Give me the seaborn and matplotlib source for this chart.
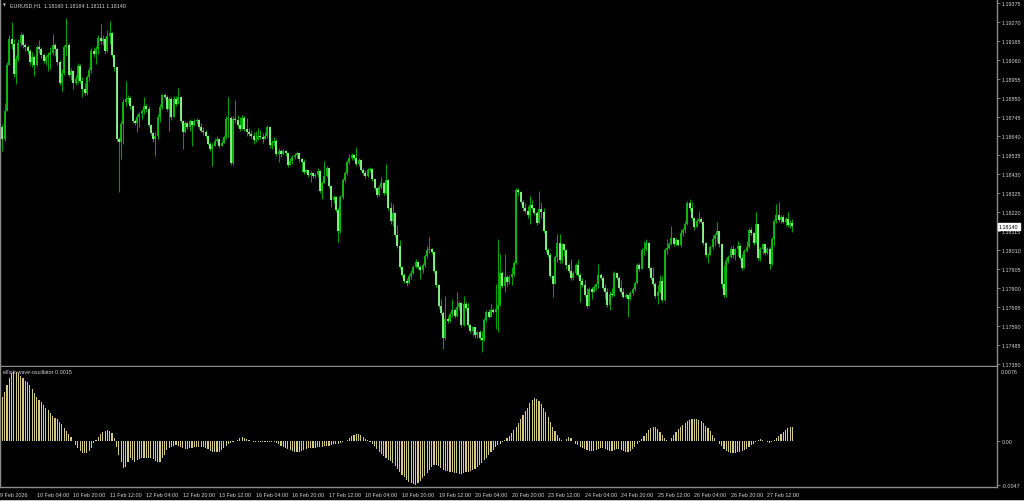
import numpy as np
import pandas as pd
import matplotlib
matplotlib.use("Agg")
import matplotlib.pyplot as plt
import matplotlib.transforms as mtransforms
import seaborn as sns

# Dados do gráfico EURUSD H1
symbol = "EURUSD,H1"
indicator_name = "elliott-wave-oscillator"
first_open = 1.18606

closes = [
    1.18690, 1.18623, 1.18778, 1.19032, 1.19176, 1.19148, 1.18982, 1.19065, 1.19154, 1.19198,
    1.19143, 1.19132, 1.19110, 1.19048, 1.19077, 1.19032, 1.19132, 1.19121, 1.19088, 1.19054,
    1.19077, 1.19088, 1.19099, 1.19143, 1.19121, 1.19048, 1.18933, 1.18988, 1.19132, 1.19143,
    1.18977, 1.18999, 1.18933, 1.18955, 1.19026, 1.18944, 1.18900, 1.18878, 1.18966, 1.19004,
    1.19110, 1.19093, 1.19121, 1.19181, 1.19165, 1.19176, 1.19110, 1.19192, 1.19209, 1.19088,
    1.19021, 1.18623, 1.18606, 1.18706, 1.18827, 1.18844, 1.18850, 1.18805, 1.18723, 1.18712,
    1.18745, 1.18761, 1.18778, 1.18805, 1.18789, 1.18701, 1.18657, 1.18623, 1.18640, 1.18745,
    1.18800, 1.18867, 1.18856, 1.18789, 1.18844, 1.18745, 1.18844, 1.18816, 1.18856, 1.18723,
    1.18662, 1.18712, 1.18690, 1.18723, 1.18701, 1.18723, 1.18728, 1.18690, 1.18668, 1.18662,
    1.18640, 1.18595, 1.18568, 1.18584, 1.18612, 1.18623, 1.18584, 1.18601, 1.18635, 1.18734,
    1.18739, 1.18491, 1.18734, 1.18728, 1.18701, 1.18679, 1.18739, 1.18679, 1.18662, 1.18651,
    1.18640, 1.18617, 1.18623, 1.18640, 1.18635, 1.18623, 1.18640, 1.18690, 1.18590, 1.18601,
    1.18612, 1.18540, 1.18557, 1.18540, 1.18557, 1.18546, 1.18480, 1.18502, 1.18524, 1.18535,
    1.18546, 1.18513, 1.18496, 1.18441, 1.18452, 1.18425, 1.18436, 1.18419, 1.18425, 1.18447,
    1.18336, 1.18380, 1.18419, 1.18463, 1.18363, 1.18286, 1.18303, 1.18231, 1.18115, 1.18303,
    1.18396, 1.18436, 1.18496, 1.18518, 1.18535, 1.18518, 1.18485, 1.18507, 1.18452, 1.18436,
    1.18419, 1.18452, 1.18458, 1.18402, 1.18352, 1.18314, 1.18358, 1.18380, 1.18325, 1.18396,
    1.18242, 1.18170, 1.18214, 1.18093, 1.18032, 1.17916, 1.17872, 1.17839, 1.17828, 1.17866,
    1.17883, 1.17916, 1.17943, 1.17916, 1.17899, 1.17927, 1.17977, 1.18010, 1.18016, 1.17999,
    1.17894, 1.17817, 1.17701, 1.17662, 1.17523, 1.17629, 1.17618, 1.17656, 1.17678, 1.17645,
    1.17695, 1.17717, 1.17596, 1.17712, 1.17690, 1.17596, 1.17562, 1.17585, 1.17540, 1.17556,
    1.17523, 1.17512, 1.17623, 1.17668, 1.17640, 1.17678, 1.17668, 1.17684, 1.17706, 1.17883,
    1.17811, 1.17861, 1.17833, 1.17861, 1.17877, 1.17938, 1.18341, 1.18330, 1.18275, 1.18242,
    1.18226, 1.18203, 1.18259, 1.18242, 1.18214, 1.18159, 1.18237, 1.18220, 1.18115, 1.18010,
    1.17982, 1.17866, 1.17822, 1.17971, 1.18049, 1.17954, 1.18043, 1.18010, 1.17927, 1.17894,
    1.17855, 1.17883, 1.17927, 1.17872, 1.17839, 1.17817, 1.17761, 1.17701, 1.17794, 1.17778,
    1.17806, 1.17822, 1.17872, 1.17855, 1.17800, 1.17778, 1.17706, 1.17767, 1.17761, 1.17883,
    1.17855, 1.17800, 1.17778, 1.17750, 1.17761, 1.17739, 1.17772, 1.17794, 1.17828, 1.17927,
    1.17905, 1.18010, 1.18016, 1.18049, 1.17910, 1.17855, 1.17822, 1.17756, 1.17778, 1.17839,
    1.17734, 1.18010, 1.18021, 1.18043, 1.18076, 1.18043, 1.18065, 1.18038, 1.18104, 1.18121,
    1.18154, 1.18270, 1.18242, 1.18187, 1.18137, 1.18170, 1.18181, 1.18165, 1.18049, 1.17982,
    1.17982, 1.18027, 1.18071, 1.18093, 1.18115, 1.18043, 1.17822, 1.17761, 1.17949, 1.17971,
    1.18016, 1.17982, 1.18016, 1.18032, 1.17965, 1.17910, 1.18005, 1.18027, 1.18121, 1.18104,
    1.18049, 1.18154, 1.17965, 1.18016, 1.18043, 1.17993, 1.18016, 1.17932, 1.18071, 1.18170,
    1.18203, 1.18176, 1.18192, 1.18165, 1.18181, 1.18148, 1.18160, 1.18140,
]

highs = [
    1.18723, 1.18706, 1.18822, 1.19048, 1.19198, 1.19269, 1.19176, 1.19088, 1.19176, 1.19214,
    1.19209, 1.19154, 1.19143, 1.19121, 1.19104, 1.19088, 1.19143, 1.19170, 1.19132, 1.19099,
    1.19088, 1.19104, 1.19132, 1.19203, 1.19154, 1.19126, 1.19059, 1.19010, 1.19143, 1.19292,
    1.19154, 1.19015, 1.19004, 1.18977, 1.19043, 1.19037, 1.18966, 1.18933, 1.18977, 1.19021,
    1.19126, 1.19132, 1.19137, 1.19198, 1.19258, 1.19198, 1.19187, 1.19225, 1.19275, 1.19214,
    1.19088, 1.19021, 1.18635, 1.18723, 1.18844, 1.18944, 1.18867, 1.18861, 1.18811, 1.18734,
    1.18761, 1.18772, 1.18789, 1.18856, 1.18816, 1.18805, 1.18706, 1.18662, 1.18662, 1.18761,
    1.18816, 1.18872, 1.18878, 1.18867, 1.18856, 1.18856, 1.18861, 1.18861, 1.18905, 1.18861,
    1.18728, 1.18723, 1.18717, 1.18734, 1.18723, 1.18734, 1.18739, 1.18734, 1.18712, 1.18690,
    1.18673, 1.18646, 1.18606, 1.18601, 1.18629, 1.18640, 1.18623, 1.18617, 1.18646, 1.18750,
    1.18856, 1.18750, 1.18750, 1.18838, 1.18756, 1.18745, 1.18756, 1.18750, 1.18739, 1.18684,
    1.18673, 1.18662, 1.18668, 1.18684, 1.18673, 1.18657, 1.18662, 1.18701, 1.18623, 1.18617,
    1.18635, 1.18623, 1.18573, 1.18568, 1.18568, 1.18562, 1.18546, 1.18518, 1.18535, 1.18546,
    1.18557, 1.18546, 1.18518, 1.18513, 1.18458, 1.18452, 1.18447, 1.18441, 1.18436, 1.18463,
    1.18452, 1.18391, 1.18502, 1.18474, 1.18469, 1.18369, 1.18314, 1.18308, 1.18248, 1.18314,
    1.18407, 1.18447, 1.18507, 1.18540, 1.18546, 1.18540, 1.18579, 1.18518, 1.18513, 1.18463,
    1.18452, 1.18463, 1.18469, 1.18463, 1.18396, 1.18352, 1.18369, 1.18414, 1.18385, 1.18485,
    1.18402, 1.18275, 1.18264, 1.18220, 1.18148, 1.18065, 1.17921, 1.17883, 1.17855, 1.17877,
    1.17899, 1.17927, 1.17960, 1.17949, 1.17927, 1.17938, 1.17988, 1.18032, 1.18082, 1.18021,
    1.18005, 1.17899, 1.17822, 1.17739, 1.17673, 1.17756, 1.17646, 1.17668, 1.17739, 1.17690,
    1.17778, 1.17728, 1.17723, 1.17756, 1.17723, 1.17717, 1.17601, 1.17590, 1.17573, 1.17562,
    1.17567, 1.17562, 1.17634, 1.17678, 1.17684, 1.17712, 1.17690, 1.17822, 1.18071, 1.17988,
    1.17894, 1.17988, 1.17872, 1.17872, 1.17916, 1.17949, 1.18352, 1.18352, 1.18336, 1.18286,
    1.18270, 1.18253, 1.18308, 1.18286, 1.18242, 1.18226, 1.18336, 1.18275, 1.18242, 1.18121,
    1.18021, 1.17993, 1.17872, 1.17982, 1.18098, 1.18098, 1.18049, 1.18021, 1.18016, 1.17938,
    1.17960, 1.17894, 1.17938, 1.17960, 1.17883, 1.17855, 1.17844, 1.17800, 1.17806, 1.17806,
    1.17817, 1.17828, 1.17932, 1.17883, 1.17866, 1.17822, 1.17800, 1.17783, 1.17800, 1.17894,
    1.17883, 1.17866, 1.17844, 1.17800, 1.17772, 1.17761, 1.17783, 1.17806, 1.17839, 1.17938,
    1.17938, 1.18021, 1.18060, 1.18071, 1.18054, 1.17916, 1.17916, 1.17833, 1.17817, 1.17872,
    1.17866, 1.18021, 1.18071, 1.18054, 1.18142, 1.18082, 1.18076, 1.18071, 1.18126, 1.18132,
    1.18170, 1.18281, 1.18292, 1.18275, 1.18187, 1.18187, 1.18226, 1.18192, 1.18170, 1.18054,
    1.17993, 1.18038, 1.18093, 1.18104, 1.18165, 1.18076, 1.18005, 1.17927, 1.17965, 1.17982,
    1.18032, 1.18038, 1.18021, 1.18060, 1.18043, 1.17988, 1.18016, 1.18060, 1.18132, 1.18137,
    1.18110, 1.18220, 1.18093, 1.18027, 1.18049, 1.18032, 1.18027, 1.18027, 1.18082, 1.18181,
    1.18264, 1.18275, 1.18203, 1.18203, 1.18192, 1.18220, 1.18176, 1.18184,
]

lows = [
    1.18551, 1.18557, 1.18612, 1.18778, 1.19032, 1.19121, 1.18966, 1.18927, 1.19054, 1.19137,
    1.19126, 1.19110, 1.19093, 1.19032, 1.19021, 1.18971, 1.19026, 1.19099, 1.19071, 1.19043,
    1.19032, 1.18999, 1.19010, 1.19088, 1.19082, 1.19032, 1.18922, 1.18889, 1.18977, 1.19082,
    1.18966, 1.18949, 1.18900, 1.18922, 1.18933, 1.18933, 1.18856, 1.18867, 1.18867, 1.18944,
    1.18988, 1.19077, 1.19037, 1.19093, 1.19148, 1.19143, 1.19093, 1.19104, 1.19148, 1.19077,
    1.18999, 1.18612, 1.18330, 1.18513, 1.18595, 1.18805, 1.18822, 1.18789, 1.18712, 1.18701,
    1.18662, 1.18690, 1.18734, 1.18761, 1.18772, 1.18690, 1.18646, 1.18606, 1.18529, 1.18623,
    1.18717, 1.18789, 1.18844, 1.18778, 1.18668, 1.18728, 1.18833, 1.18805, 1.18838, 1.18712,
    1.18568, 1.18657, 1.18679, 1.18668, 1.18584, 1.18695, 1.18706, 1.18679, 1.18662, 1.18646,
    1.18629, 1.18590, 1.18557, 1.18474, 1.18595, 1.18606, 1.18573, 1.18584, 1.18601, 1.18623,
    1.18635, 1.18480, 1.18480, 1.18712, 1.18690, 1.18668, 1.18679, 1.18668, 1.18640, 1.18640,
    1.18629, 1.18595, 1.18606, 1.18617, 1.18623, 1.18601, 1.18623, 1.18629, 1.18573, 1.18568,
    1.18584, 1.18529, 1.18496, 1.18524, 1.18535, 1.18529, 1.18469, 1.18480, 1.18485, 1.18513,
    1.18518, 1.18496, 1.18441, 1.18430, 1.18436, 1.18414, 1.18385, 1.18408, 1.18408, 1.18414,
    1.18325, 1.18292, 1.18396, 1.18414, 1.18352, 1.18248, 1.18270, 1.18220, 1.18054, 1.18104,
    1.18292, 1.18385, 1.18425, 1.18485, 1.18507, 1.18507, 1.18474, 1.18474, 1.18447, 1.18425,
    1.18408, 1.18414, 1.18441, 1.18391, 1.18341, 1.18303, 1.18308, 1.18347, 1.18314, 1.18319,
    1.18231, 1.18154, 1.18143, 1.18082, 1.18021, 1.17905, 1.17861, 1.17828, 1.17811, 1.17822,
    1.17850, 1.17877, 1.17910, 1.17905, 1.17850, 1.17883, 1.17916, 1.17965, 1.17993, 1.17988,
    1.17883, 1.17806, 1.17690, 1.17651, 1.17463, 1.17512, 1.17607, 1.17612, 1.17640, 1.17634,
    1.17640, 1.17678, 1.17585, 1.17590, 1.17678, 1.17585, 1.17551, 1.17535, 1.17523, 1.17523,
    1.17512, 1.17446, 1.17507, 1.17612, 1.17634, 1.17640, 1.17662, 1.17573, 1.17556, 1.17701,
    1.17800, 1.17778, 1.17811, 1.17822, 1.17817, 1.17866, 1.17932, 1.18314, 1.18264, 1.18226,
    1.18214, 1.18187, 1.18154, 1.18231, 1.18203, 1.18148, 1.18192, 1.18187, 1.18104, 1.17999,
    1.17971, 1.17855, 1.17750, 1.17844, 1.17943, 1.17938, 1.17938, 1.17977, 1.17905, 1.17883,
    1.17844, 1.17844, 1.17872, 1.17861, 1.17723, 1.17806, 1.17750, 1.17690, 1.17701, 1.17739,
    1.17778, 1.17789, 1.17800, 1.17844, 1.17789, 1.17739, 1.17695, 1.17678, 1.17750, 1.17756,
    1.17844, 1.17789, 1.17767, 1.17745, 1.17745, 1.17640, 1.17734, 1.17761, 1.17783, 1.17822,
    1.17894, 1.17905, 1.17982, 1.18005, 1.17899, 1.17844, 1.17811, 1.17745, 1.17712, 1.17772,
    1.17723, 1.17728, 1.17988, 1.18016, 1.18038, 1.18032, 1.18038, 1.18032, 1.18027, 1.18087,
    1.18104, 1.18148, 1.18226, 1.18176, 1.18121, 1.18137, 1.18159, 1.18159, 1.18038, 1.17971,
    1.17938, 1.17982, 1.18016, 1.18032, 1.18054, 1.18027, 1.17800, 1.17750, 1.17750, 1.17938,
    1.17965, 1.17965, 1.17954, 1.17977, 1.17954, 1.17899, 1.17916, 1.17999, 1.18021, 1.18093,
    1.18038, 1.18071, 1.17954, 1.17949, 1.17988, 1.17982, 1.17988, 1.17905, 1.17927, 1.18032,
    1.18159, 1.18165, 1.18159, 1.18159, 1.18143, 1.18137, 1.18132, 1.18111,
]

ewo = [
    0.00448, 0.00466, 0.00519, 0.00590, 0.00660, 0.00713, 0.00731, 0.00724, 0.00713, 0.00688,
    0.00660, 0.00632, 0.00625, 0.00590, 0.00547, 0.00501, 0.00466, 0.00431, 0.00406, 0.00378,
    0.00349, 0.00325, 0.00289, 0.00265, 0.00244, 0.00229, 0.00201, 0.00173, 0.00138, 0.00102,
    0.00067, 0.00042, -0.00005, -0.00046, -0.00081, -0.00109, -0.00131, -0.00134, -0.00131, -0.00109,
    -0.00074, -0.00028, 0.00007, 0.00035, 0.00067, 0.00088, 0.00102, 0.00109, 0.00102, 0.00078,
    0.00025, -0.00064, -0.00152, -0.00229, -0.00293, -0.00275, -0.00222, -0.00187, -0.00205, -0.00222,
    -0.00205, -0.00194, -0.00187, -0.00180, -0.00180, -0.00187, -0.00180, -0.00198, -0.00215, -0.00229,
    -0.00222, -0.00187, -0.00152, -0.00099, -0.00074, -0.00064, -0.00053, -0.00046, -0.00056, -0.00064,
    -0.00081, -0.00092, -0.00088, -0.00081, -0.00074, -0.00064, -0.00064, -0.00064, -0.00064, -0.00071,
    -0.00074, -0.00088, -0.00109, -0.00116, -0.00116, -0.00116, -0.00116, -0.00099, -0.00074, -0.00053,
    -0.00039, -0.00028, -0.00018, -0.00004, 0.00007, 0.00025, 0.00042, 0.00032, 0.00018, 0.00007,
    -0.00004, -0.00011, -0.00011, -0.00018, -0.00011, -0.00011, -0.00011, -0.00014, -0.00018, -0.00011,
    -0.00018, -0.00028, -0.00039, -0.00053, -0.00064, -0.00074, -0.00088, -0.00099, -0.00109, -0.00116,
    -0.0012, -0.0012, -0.0011, -0.0010, -0.0009, -0.0008, -0.0008, -0.0008, -0.0008, -0.0007,
    -0.0007, -0.0007, -0.0006, -0.0006, -0.0006, -0.0005, -0.0004, -0.0004, -0.0003, -0.0002,
    -0.0001, 0.0000, 0.0001, 0.0003, 0.0005, 0.0006, 0.0007, 0.0007, 0.0006, 0.0004,
    0.0002, 0.0001, -0.0001, -0.0003, -0.0006, -0.0009, -0.0012, -0.0014, -0.0016, -0.0018,
    -0.0020, -0.0022, -0.0024, -0.0027, -0.0030, -0.0033, -0.0036, -0.0039, -0.0042, -0.0044,
    -0.0045, -0.0046, -0.0047, -0.0045, -0.0043, -0.0040, -0.0037, -0.0034, -0.0031, -0.0028,
    -0.0026, -0.0026, -0.0027, -0.0029, -0.0031, -0.0032, -0.0032, -0.0033, -0.0033, -0.0034,
    -0.0034, -0.0035, -0.0035, -0.0034, -0.0033, -0.0033, -0.0032, -0.0031, -0.0030, -0.0028,
    -0.0026, -0.0024, -0.0021, -0.0018, -0.0015, -0.0012, -0.0010, -0.0007, -0.0005, -0.0003,
    -0.0001, 0.0001, 0.0003, 0.0005, 0.0008, 0.0011, 0.0015, 0.0019, 0.0023, 0.0027,
    0.0031, 0.0035, 0.0040, 0.0043, 0.0045, 0.0044, 0.0042, 0.0039, 0.0035, 0.0030,
    0.0025, 0.0020, 0.0015, 0.0010, 0.0006, 0.0003, 0.0001, 0.0000, 0.0002, 0.0004,
    0.0003, 0.0000, -0.0003, -0.0005, -0.0007, -0.0008, -0.0009, -0.0010, -0.0011, -0.0011,
    -0.0011, -0.0010, -0.0009, -0.0008, -0.0008, -0.0009, -0.0010, -0.0011, -0.0011, -0.0010,
    -0.0009, -0.0009, -0.0010, -0.0011, -0.0012, -0.0012, -0.0011, -0.0009, -0.0007, -0.0004,
    -0.0001, 0.0002, 0.0005, 0.0008, 0.0011, 0.0013, 0.0014, 0.0014, 0.0012, 0.0009,
    0.0006, 0.0003, 0.0001, 0.0000, 0.0003, 0.0006, 0.0009, 0.0012, 0.0015, 0.0017,
    0.0019, 0.0021, 0.0022, 0.0023, 0.0023, 0.0023, 0.0022, 0.0021, 0.0019, 0.0016,
    0.0013, 0.0010, 0.0006, 0.0003, 0.0000, -0.0003, -0.0006, -0.0009, -0.0011, -0.0012,
    -0.0013, -0.0013, -0.0013, -0.0012, -0.0012, -0.0011, -0.0010, -0.0009, -0.0007, -0.0005,
    -0.0003, -0.0001, 0.0001, 0.0002, 0.0001, 0.0000, -0.0001, -0.0002, -0.0001, 0.0001,
    0.0003, 0.0005, 0.0007, 0.0009, 0.0011, 0.0013, 0.0015, 0.0015,
]

price_ticks = [1.19375, 1.19270, 1.19165, 1.19060, 1.18955, 1.18850, 1.18745,
               1.18640, 1.18535, 1.18430, 1.18325, 1.18220, 1.18115, 1.18010,
               1.17905, 1.17800, 1.17695, 1.17590, 1.17485, 1.17380]
ewo_top = 0.0076
ewo_ticks = [0.0, -0.0047]
ewo_tick_labels = ["0.00", "-0.0047"]
time_labels = ["9 Feb 2026", "10 Feb 04:00", "10 Feb 20:00", "11 Feb 12:00", "12 Feb 04:00",
               "12 Feb 20:00", "13 Feb 12:00", "16 Feb 04:00", "16 Feb 20:00", "17 Feb 12:00",
               "18 Feb 04:00", "18 Feb 20:00", "19 Feb 12:00", "20 Feb 04:00", "20 Feb 20:00",
               "23 Feb 12:00", "24 Feb 04:00", "24 Feb 20:00", "25 Feb 12:00", "26 Feb 04:00",
               "26 Feb 20:00", "27 Feb 12:00"]
bars_per_label = 16

# Cores no estilo MetaTrader (verde sobre preto)
wick_color = "#00a000"
bull_color = "#0fbf0f"
bear_color = "#8cff8c"
hist_color = "#d2c982"
frame_color = "#8c8c8c"
text_color = "#d4d4d4"

sns.set_style("dark", {"axes.facecolor": "black", "figure.facecolor": "black"})
plt.rcParams["font.family"] = ["Liberation Sans", "DejaVu Sans"]
fs = 3.9

bars = pd.DataFrame({"bar": np.arange(len(closes)), "close": closes,
                     "high": highs, "low": lows, "ewo": ewo})
bars["open"] = bars["close"].shift(1).fillna(first_open)
bars["high"] = bars[["high", "open", "close"]].max(axis=1)
bars["low"] = bars[["low", "open", "close"]].min(axis=1)
up = bars["close"] >= bars["open"]

fig = plt.figure(figsize=(10.24, 5.02), dpi=100, facecolor="black")
ax = fig.add_axes([0, 135 / 502, 997 / 1024, 367 / 502])
ax2 = fig.add_axes([0, 14 / 502, 997 / 1024, 120 / 502])

# Velas
ax.vlines(bars["bar"], bars["low"], bars["high"], color=wick_color, lw=0.75)
ax.vlines(bars["bar"][up], bars["open"][up], bars["close"][up], color=bull_color, lw=1.3)
ax.vlines(bars["bar"][~up], bars["open"][~up], bars["close"][~up], color=bear_color, lw=1.3)

# Histograma do oscilador
sns.barplot(data=bars, x="bar", y="ewo", native_scale=True, color=hist_color,
            width=0.5, saturation=1, errorbar=None, linewidth=0, ax=ax2)

for a in (ax, ax2):
    a.set_facecolor("black")
    a.set_xlim(-0.07, 436.6)
    a.grid(False)
    a.set_xlabel("")
    a.set_ylabel("")
    a.spines["top"].set_visible(False)
    for side in ("left", "right", "bottom"):
        a.spines[side].set_color(frame_color)
        a.spines[side].set_linewidth(1.0)
    a.yaxis.tick_right()
    a.tick_params(axis="y", direction="out", length=2, width=0.6, color=frame_color,
                  labelsize=fs, labelcolor=text_color, pad=1.2)

ax.set_ylim(1.17369, 1.19397)
ax.set_yticks(price_ticks)
ax.set_yticklabels([f"{v:.5f}" for v in price_ticks])
ax.tick_params(axis="x", bottom=False, labelbottom=False)

ax2.set_ylim(-0.00491, 0.00781)
ax2.set_yticks(ewo_ticks)
ax2.set_yticklabels(ewo_tick_labels)
ax2.set_xticks(np.arange(len(time_labels)) * bars_per_label)
ax2.set_xticklabels(time_labels)
for lab in ax2.get_xticklabels():
    lab.set_horizontalalignment("left")
ax2.tick_params(axis="x", direction="out", length=2.5, width=0.6, color=frame_color,
                labelsize=fs, labelcolor=text_color, pad=1.2)

# Valor máximo do oscilador (sem marca de tick, como no MT4)
trans2 = mtransforms.blended_transform_factory(ax2.transAxes, ax2.transData)
ax2.text(1.0042, ewo_top, f"{ewo_top:.4f}", transform=trans2, fontsize=fs,
         color=text_color, va="top", ha="left", clip_on=False)

# Etiqueta do preço atual
last = bars.iloc[-1]
trans = mtransforms.blended_transform_factory(ax.transAxes, ax.transData)
ax.text(1.002, last["close"], f"{last['close']:.5f}", transform=trans, fontsize=fs,
        color="black", va="center", ha="left", zorder=10, clip_on=False,
        bbox=dict(facecolor="white", edgecolor="white", pad=0.7))

# Textos do cabeçalho
fig.text(3 / 1024, 1 - 5.5 / 502, "▼", fontsize=2.6, color=text_color,
         family="DejaVu Sans", va="center")
fig.text(10 / 1024, 1 - 5.5 / 502,
         f"{symbol}  {last['open']:.5f} {last['high']:.5f} {last['low']:.5f} {last['close']:.5f}",
         fontsize=fs, color=text_color, va="center")
fig.text(3 / 1024, 1 - 373 / 502, f"{indicator_name} {ewo[-1]:.4f}",
         fontsize=fs, color=text_color, va="center")

# Borda inferior da janela
fig.add_artist(plt.Line2D([0, 1], [1.2 / 502, 1.2 / 502], color="#c8c8c8", lw=0.7))

fig.savefig("out.png", dpi=100, facecolor="black")
